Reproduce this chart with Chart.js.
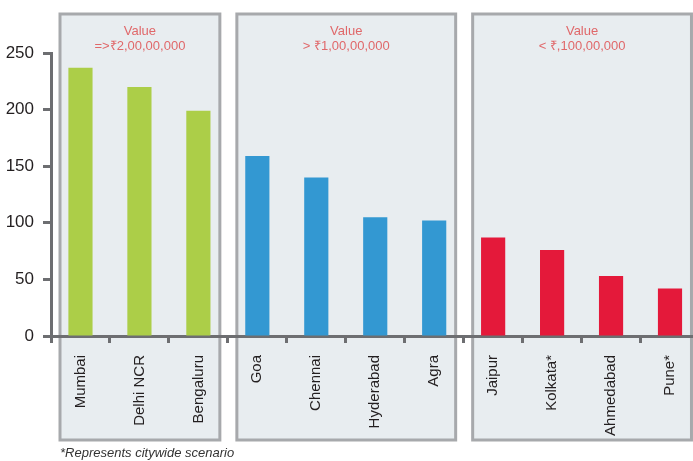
<!DOCTYPE html>
<html>
<head>
<meta charset="utf-8">
<script src="https://cdn.jsdelivr.net/npm/chart.js@4"></script>
<style>
  html, body { margin: 0; padding: 0; background: #fff; overflow: hidden; }
  #wrap { position: relative; width: 693px; height: 461px; overflow: hidden; }
  #chart { position: absolute; left: 0; top: 0; }
  #note {
    position: absolute; left: 60px; top: 445px;
    font: italic 13px "Liberation Sans Narrow", "Liberation Sans", sans-serif;
    color: #333;
  }
</style>
</head>
<body>
<div id="wrap">
  <canvas id="chart" width="700" height="461"></canvas>
  <div id="note">*Represents citywide scenario</div>
</div>
<script>
// ---------------- DATA ----------------
const cities = ["Mumbai", "Delhi NCR", "Bengaluru", "Goa", "Chennai", "Hyderabad", "Agra",
                "Jaipur", "Kolkata*", "Ahmedabad", "Pune*"];
const values = [237, 220, 199, 159, 140, 105, 102, 87, 76, 53, 42];
const groupSizes = [3, 4, 4];
const groupTitles = [
  ["Value", "=>₹2,00,00,000"],
  ["Value", "> ₹1,00,00,000"],
  ["Value", "< ₹,100,00,000"]
];
const groupColors = ["#acce48", "#3398d2", "#e4193a"];
const yTicks = [0, 50, 100, 150, 200, 250];

const barColors = [];
groupSizes.forEach((n, g) => { for (let i = 0; i < n; i++) barColors.push(groupColors[g]); });

const FONT = "'Liberation Sans Narrow', 'Liberation Sans', sans-serif";

// ---------------- PANELS ----------------
const panels = {
  id: "panels",
  beforeDraw(chart) {
    const { ctx } = chart;
    const x = chart.scales.x;
    const half = (x.getPixelForValue(1) - x.getPixelForValue(0)) / 2;
    let start = 0;
    groupSizes.forEach((n, g) => {
      const left = x.getPixelForValue(start) - half + 9;
      const right = Math.min(x.getPixelForValue(start + n - 1) + half - 8, 692);
      const top = 14, bottom = 440;
      ctx.save();
      ctx.fillStyle = "#e8edf0";
      ctx.fillRect(left, top, right - left, bottom - top);
      ctx.strokeStyle = "#a7a9ac";
      ctx.lineWidth = 3;
      ctx.strokeRect(left, top, right - left, bottom - top);
      ctx.fillStyle = "#e0686a";
      ctx.font = "13px " + FONT;
      ctx.textAlign = "center";
      ctx.textBaseline = "middle";
      const cx = (left + right) / 2;
      ctx.fillText(groupTitles[g][0], cx, 31);
      ctx.fillText(groupTitles[g][1], cx, 46);
      ctx.restore();
      start += n;
    });
  }
};

// ---------------- CHART ----------------
new Chart(document.getElementById("chart").getContext("2d"), {
  type: "bar",
  data: {
    labels: cities,
    datasets: [{
      data: values,
      backgroundColor: barColors,
      barPercentage: 0.41,
      categoryPercentage: 1
    }]
  },
  options: {
    responsive: false,
    animation: false,
    layout: { padding: { top: 53, right: 0, bottom: 0, left: 0 } },
    plugins: { legend: { display: false }, tooltip: { enabled: false } },
    scales: {
      x: {
        grid: { offset: true, drawOnChartArea: false, tickLength: 7, tickWidth: 3, color: "#6d6e71" },
        border: { color: "#6d6e71", width: 3 },
        ticks: {
          minRotation: 90, maxRotation: 90, padding: 12, autoSkip: false,
          color: "#231f20", font: { family: FONT, size: 15 }
        },
        afterFit: s => { s.height = 125; }
      },
      y: {
        min: 0, max: 250,
        afterBuildTicks: s => { s.ticks = yTicks.map(v => ({ value: v })); },
        grid: { drawOnChartArea: false, tickLength: 8, tickWidth: 3, color: "#6d6e71" },
        border: { color: "#6d6e71", width: 3 },
        ticks: { padding: 9, color: "#231f20", font: { family: FONT, size: 17 } },
        afterFit: s => { s.width = 51; }
      }
    }
  },
  plugins: [panels]
});
</script>
</body>
</html>
